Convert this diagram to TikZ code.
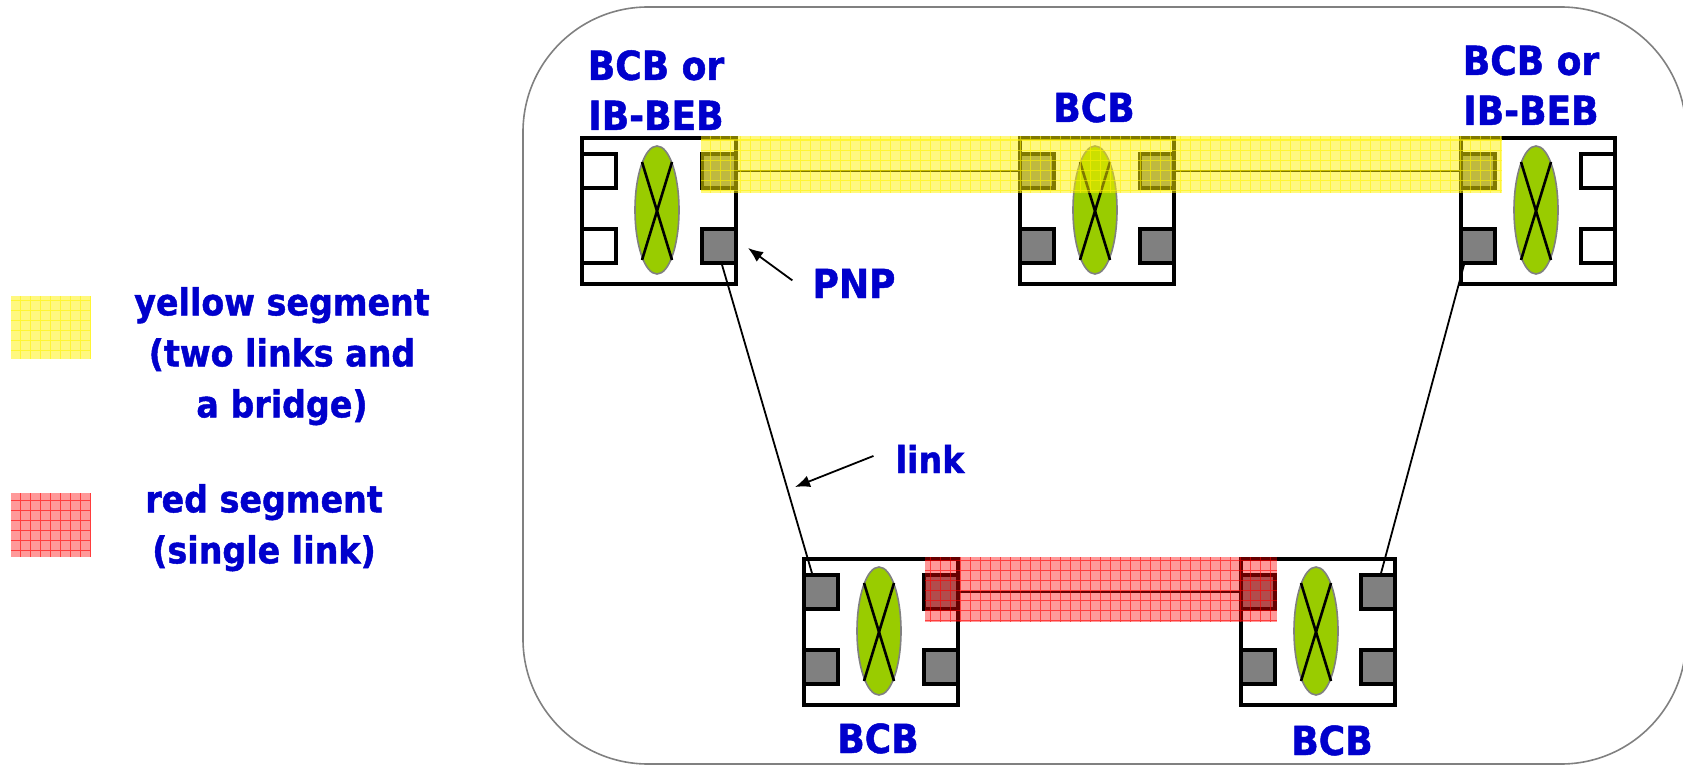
\documentclass[tikz,border=0pt]{standalone}
\usepackage{fontspec}
\newfontfamily\lblfont{DejaVu Sans}[FakeStretch=0.9, BoldFeatures={FakeBold=1.2}]
\usetikzlibrary{shapes.geometric,arrows.meta}
\definecolor{txtblue}{HTML}{0000CC}
\definecolor{leafgreen}{HTML}{99CC00}
\definecolor{portgray}{HTML}{808080}
\tikzset{
  bbox/.style={rectangle, draw=black, line width=4pt, fill=white, minimum width=154pt, minimum height=146pt, inner sep=0pt},
  port/.style={rectangle, draw=black, line width=4pt, minimum width=34.5pt, minimum height=33.5pt, inner sep=0pt},
  ell/.style={ellipse, draw=portgray, line width=1.6pt, fill=leafgreen, minimum width=44pt, minimum height=128pt, inner sep=0pt},
  xline/.style={line width=2.6pt, black},
  wire/.style={line width=1.8pt, black},
  callout/.style={line width=1.8pt, black, -{Latex[length=15pt,width=12pt]}},
  lbl/.style={text=txtblue, font=\lblfont\bfseries\fontsize{40}{50}\selectfont, inner sep=0pt, align=center},
  smalllbl/.style={text=txtblue, font=\lblfont\bfseries\fontsize{37}{51}\selectfont, inner sep=0pt, align=center},
  legtxt/.style={text=txtblue, font=\lblfont\bfseries\fontsize{37}{51}\selectfont, inner sep=0pt, align=center},
}
\newcommand\drawbridge[7]{%
  \node[bbox] (#1) at (#2,#3) {};
  \node[ell] (#1-e) at (#2-2,#3-1) {};
  \draw[xline] ([shift={(-15,-48)}]#1-e.center) -- ([shift={(15,50)}]#1-e.center);
  \draw[xline] ([shift={(15,-48)}]#1-e.center) -- ([shift={(-15,50)}]#1-e.center);
  \node[port,fill=#4] (#1-lt) at (#2-60,#3-40) {};
  \node[port,fill=#5] (#1-lb) at (#2-60,#3+35) {};
  \node[port,fill=#6] (#1-rt) at (#2+60,#3-40) {};
  \node[port,fill=#7] (#1-rb) at (#2+60,#3+35) {};
}
\newcommand\hatchrect[6]{%
  \fill[#1, opacity=#6] (#2,#3) rectangle (#4,#5);
  \begin{scope}
    \clip (#2,#3) rectangle (#4,#5);
    \draw[#1, line width=1pt, opacity=0.6, step=10pt] (#2,#3) grid (#4,#5);
  \end{scope}}
\begin{document}
\begin{tikzpicture}[x=1pt,y=-1pt]
\useasboundingbox (0,0) rectangle (1683,765);
\begin{scope}
  \clip (0,0) rectangle (1683,765);
  \draw[portgray, line width=1.6pt, rounded corners=125pt] (523,7) rectangle (1686,764);
\end{scope}

% bridges
\drawbridge{tl}{659}{211}{white}{white}{portgray}{portgray}
\drawbridge{m}{1097}{211}{portgray}{portgray}{portgray}{portgray}
\drawbridge{tr}{1538}{211}{portgray}{portgray}{white}{white}
\drawbridge{bl}{881}{632}{portgray}{portgray}{portgray}{portgray}
\drawbridge{br}{1318}{632}{portgray}{portgray}{portgray}{portgray}

% links
\draw[wire] (tl-rt.east) -- (m-lt.west);
\draw[wire] (m-rt.east) -- (tr-lt.west);
\draw[wire] (bl-rt.east) -- (br-lt.west);
\draw[wire] ([xshift=3pt]tl-rb.south) -- ([xshift=-9pt]bl-lt.north);
\draw[wire] ([xshift=-14pt]tr-lb.south) -- ([xshift=3pt]br-rt.north);

% segments
\hatchrect{yellow}{701}{136}{1502}{193}{0.5}
\hatchrect{red}{925}{557}{1277}{622}{0.4}

% legend
\hatchrect{yellow}{11}{296}{91}{359}{0.5}
\hatchrect{red}{11}{493}{91}{557}{0.4}
\node[legtxt, anchor=north] (legY) at (282,287) {yellow segment\\(two links and\\a bridge)};
\node[legtxt, anchor=north] (legR) at (264,484) {red segment\\(single link)};

% labels
\node[lbl, anchor=north] (lblTL) at (656,50) {BCB or\\IB-BEB};
\node[lbl, anchor=north] (lblTR) at (1531,45) {BCB or\\IB-BEB};
\node[lbl, anchor=base] (lblM) at (1094,122) {BCB};
\node[lbl, anchor=base] (lblBL) at (878,753) {BCB};
\node[lbl, anchor=base] (lblBR) at (1332,755) {BCB};
\node[lbl, anchor=base] (pnp) at (854,298) {PNP};
\node[smalllbl, anchor=base] (linklbl) at (930,473) {link};

% callouts
\coordinate (pnpHead) at (748,248);
\coordinate (linkHead) at (795,487);
\draw[callout] ([shift={(-20,-3)}]pnp.west) -- (pnpHead);
\draw[callout] ([shift={(-22,-3)}]linklbl.west) -- (linkHead);
\end{tikzpicture}
\end{document}
